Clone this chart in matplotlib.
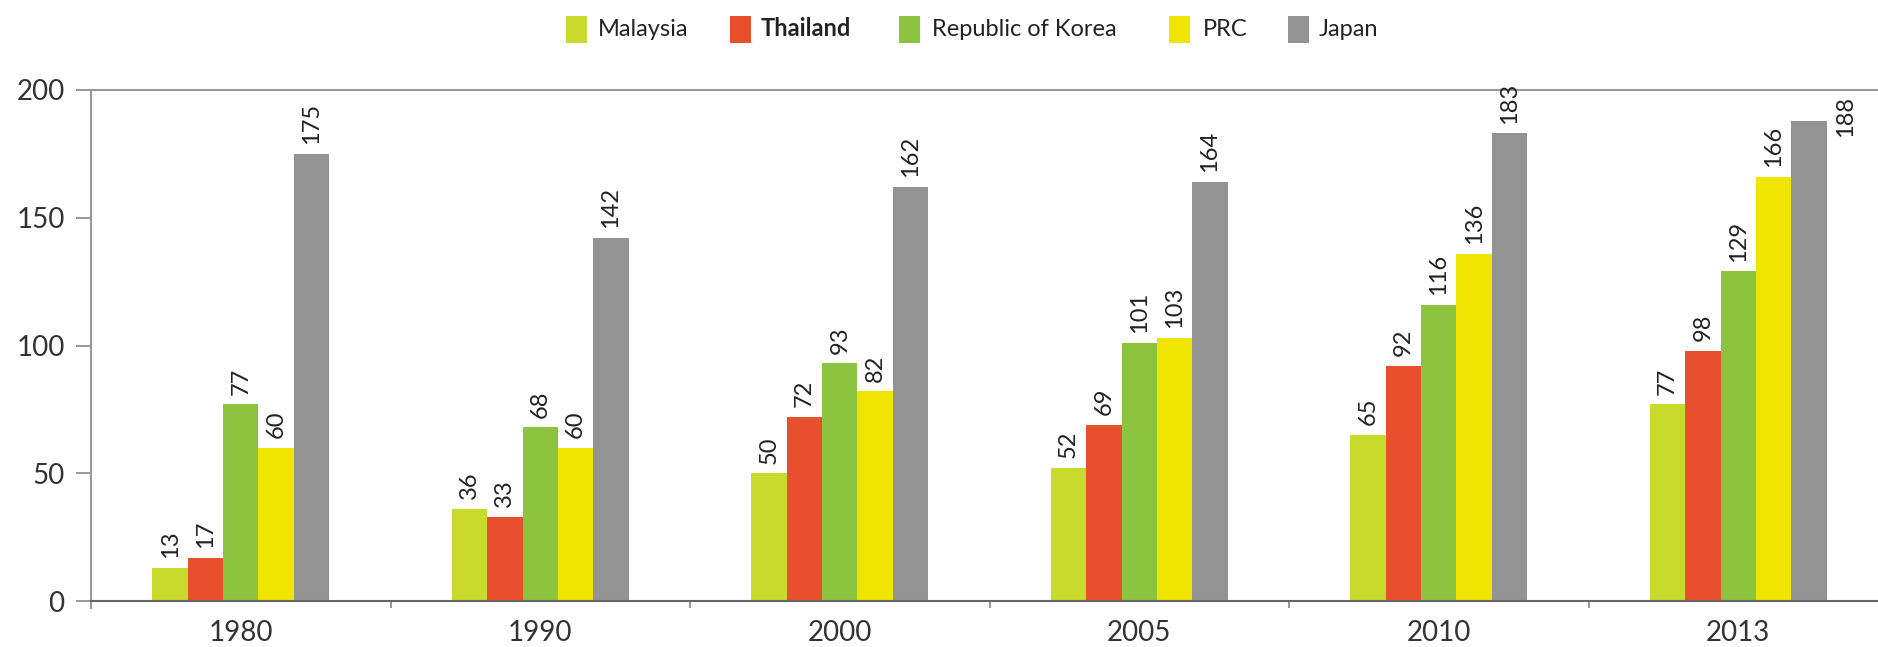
import matplotlib
matplotlib.use("Agg")
import matplotlib.pyplot as plt
import numpy as np
from matplotlib.patches import Rectangle


years = ["1980", "1990", "2000", "2005", "2010", "2013"]
countries = ["Malaysia", "Thailand", "Republic of Korea", "PRC", "Japan"]
malaysia = [13, 36, 50, 52, 65, 77]
thailand = [17, 33, 72, 69, 92, 98]
korea = [77, 68, 93, 101, 116, 129]
prc = [60, 60, 82, 103, 136, 166]
japan = [175, 142, 162, 164, 183, 188]
colors = ["#C8DA2B", "#E8502D", "#8CC43F", "#F0E500", "#939393"]

series = [malaysia, thailand, korea, prc, japan]

plt.rcParams["font.family"] = ["Lato", "DejaVu Sans"]

W, H = 1878, 647
fig = plt.figure(figsize=(W / 100, H / 100), dpi=100)
ax = fig.add_axes([91 / W, 46 / H, 1 - 91 / W, 511 / H])

x = np.arange(len(years))
width = 0.118
offsets = (np.arange(len(series)) - 2) * width

for vals, off, col in zip(series, offsets, colors):
    bars = ax.bar(x + off, vals, width=width, color=col, linewidth=0, zorder=2)
    for b, v in zip(bars, vals):
        if v > 185:
            # too close to the top: label sits beside the bar
            ax.annotate(str(v), (b.get_x() + b.get_width(), b.get_height()),
                        xytext=(6, 3), textcoords="offset points", rotation=90,
                        ha="left", va="center", fontsize=17, color="#222222")
        else:
            ax.annotate(str(v), (b.get_x() + b.get_width() / 2, b.get_height()),
                        xytext=(0, 7), textcoords="offset points", rotation=90,
                        ha="center", va="bottom", fontsize=17, color="#222222")

ax.set_ylim(0, 200)
ax.set_xlim(-0.5, 5.5 - 10 / 299.4)
ax.set_yticks([0, 50, 100, 150, 200])
ax.set_xticks(x)
ax.set_xticklabels(years)
ax.set_xticks(np.arange(-0.5, 5.5, 1.0), minor=True)

ax.tick_params(axis="y", length=11, width=1.2, color="#888888", pad=8,
               labelsize=20, labelcolor="#333333")
ax.tick_params(axis="x", which="major", length=0, pad=14, labelsize=20,
               labelcolor="#333333")
ax.tick_params(axis="x", which="minor", length=5, width=1.2, color="#888888")

for side in ("top", "left"):
    ax.spines[side].set_color("#999999")
    ax.spines[side].set_linewidth(1.5)
ax.spines["bottom"].set_color("#666666")
ax.spines["bottom"].set_linewidth(1.5)
ax.spines["right"].set_visible(False)
ax.spines["left"].set_bounds(-2.8, 200)

# legend row at top, positions in pixels of the 1878x647 picture
square_x = [566, 730, 899, 1169, 1288]
text_x = [598, 761, 932, 1203, 1319]
for name, col, sx, tx in zip(countries, colors, square_x, text_x):
    fig.patches.append(Rectangle((sx / W, 1 - 43 / H), 21 / W, 27 / H,
                                 transform=fig.transFigure, color=col,
                                 linewidth=0))
    fig.text(tx / W, 1 - 36 / H, name, fontsize=17,
             va="baseline", ha="left", color="#222222",
             fontweight="bold" if name == "Thailand" else "normal")

fig.savefig("out.png", dpi=100)
plt.close(fig)
